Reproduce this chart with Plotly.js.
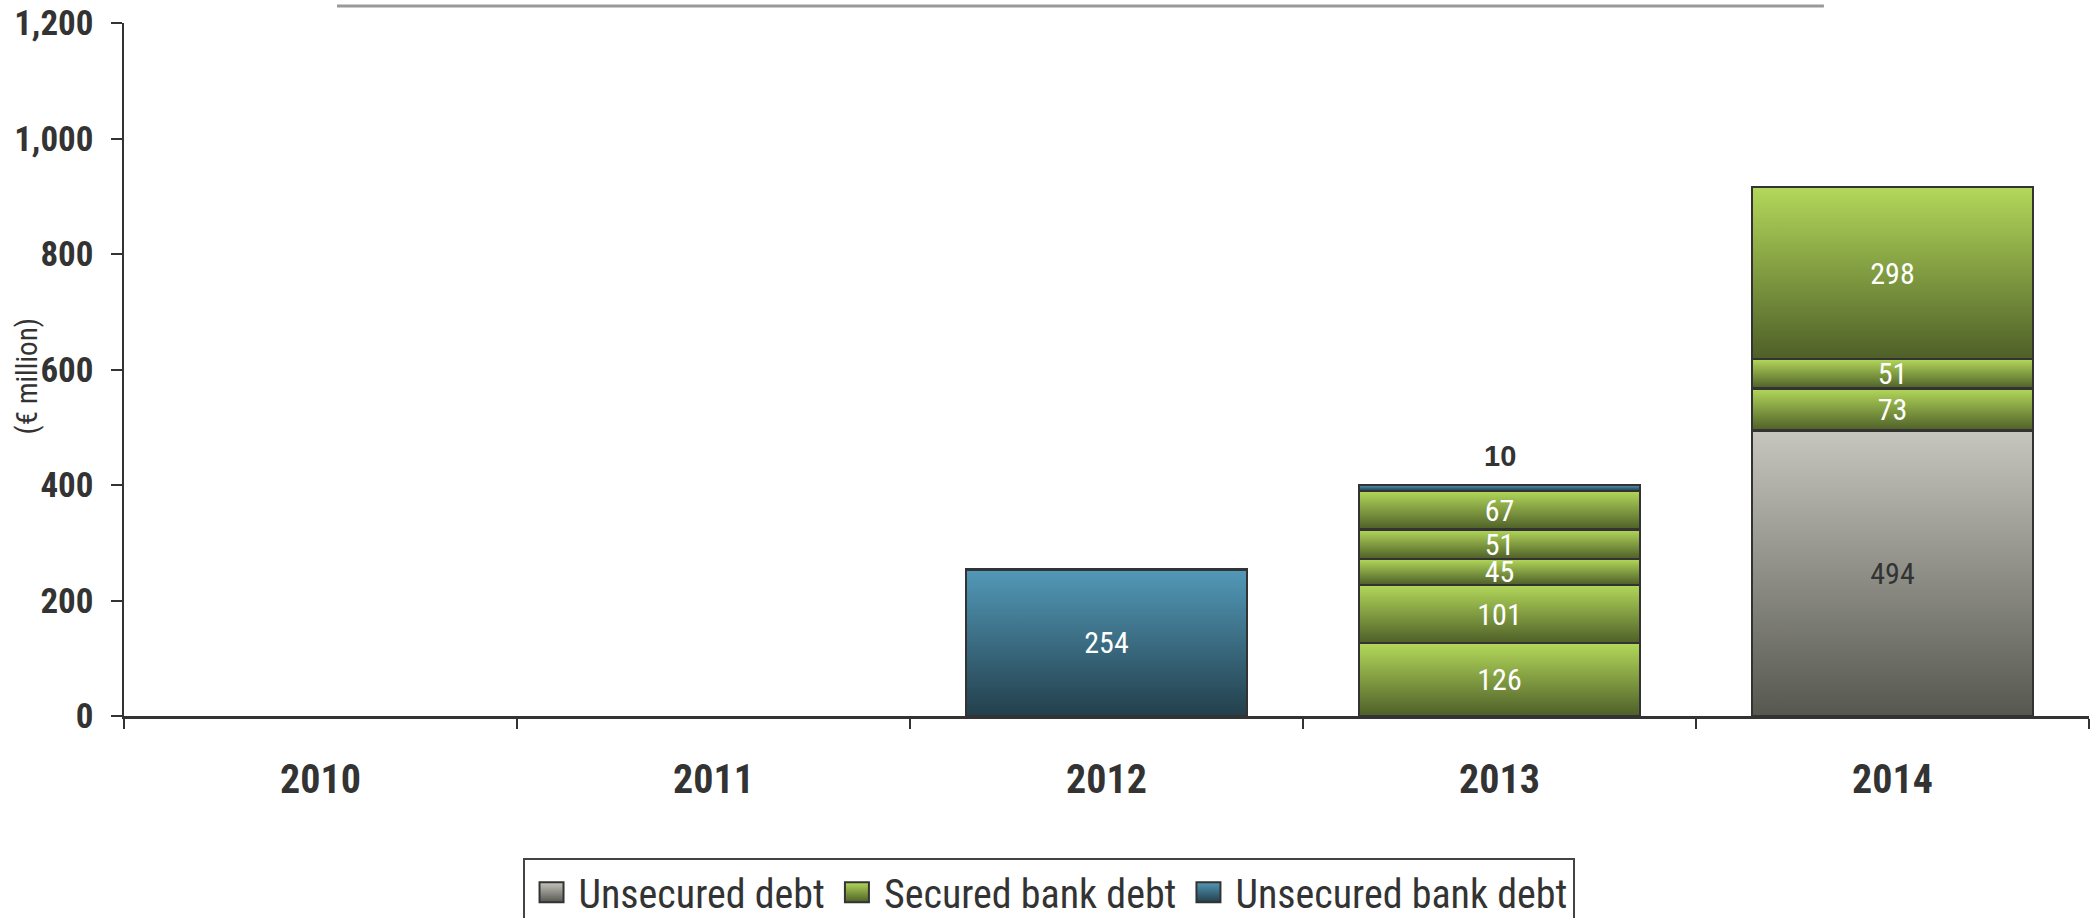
<!DOCTYPE html>
<html>
<head>
<meta charset="utf-8">
<script src="https://cdn.plot.ly/plotly-3.0.1.min.js"></script>
<style>
html,body{margin:0;padding:0;background:#ffffff;}
text{font-stretch:condensed;}
</style>
</head>
<body>
<div id="chart" style="width:2100px;height:918px;"></div>
<script>
// ---- data (€ million) ----
const years = ['2010', '2011', '2012', '2013', '2014'];
const unsecuredDebt     = [null, null, null, null, 494];
const securedTranche1   = [null, null, null, 126, 73];
const securedTranche2   = [null, null, null, 101, 51];
const securedTranche3   = [null, null, null, 45, 298];
const securedTranche4   = [null, null, null, 51, null];
const securedTranche5   = [null, null, null, 67, null];
const unsecuredBankDebt = [null, null, 254, 10, null];
const seriesNames = ['Unsecured debt', 'Secured bank debt', 'Unsecured bank debt'];
const yTickVals = [0, 200, 400, 600, 800, 1000, 1200];
const aboveStackYear = '2013';   // year whose top tranche is labelled above the stack

// ---- styles ----
const FONT = 'Roboto, "DejaVu Sans", sans-serif';
const INK = '#333333';
const gradients = {
  gGray:  ['#c6c6be', '#56574f', '#8e8e86'],
  gGreen: ['#b3d85a', '#4e5f28', '#7f9c40'],
  gBlue:  ['#5299b8', '#233f4b', '#3a6d82']
};

const allSeries = [unsecuredDebt, securedTranche1, securedTranche2, securedTranche3,
                   securedTranche4, securedTranche5, unsecuredBankDebt];
const stackTotals = years.map((_, i) => allSeries.reduce((s, arr) => s + (arr[i] || 0), 0));
const aboveIdx = years.indexOf(aboveStackYear);

function barTrace(name, values, grad, showlegend, labelColor, templates) {
  return {
    type: 'bar',
    name: name,
    x: years,
    y: values,
    meta: grad,
    legendgroup: name,
    showlegend: showlegend,
    marker: { color: gradients[grad][2], line: { color: INK, width: 2.5 } },
    texttemplate: templates || '%{y}',
    textposition: 'inside',
    insidetextanchor: 'middle',
    textangle: 0,
    constraintext: 'none',
    cliponaxis: false,
    insidetextfont: { family: FONT, size: 30, color: labelColor },
    hoverinfo: 'skip'
  };
}

const bankTemplates = unsecuredBankDebt.map((v, i) => (i === aboveIdx ? '' : '%{y}'));

const data = [
  barTrace(seriesNames[0], unsecuredDebt, 'gGray', true, INK),
  barTrace(seriesNames[1], securedTranche1, 'gGreen', true, '#ffffff'),
  barTrace(seriesNames[1], securedTranche2, 'gGreen', false, '#ffffff'),
  barTrace(seriesNames[1], securedTranche3, 'gGreen', false, '#ffffff'),
  barTrace(seriesNames[1], securedTranche4, 'gGreen', false, '#ffffff'),
  barTrace(seriesNames[1], securedTranche5, 'gGreen', false, '#ffffff'),
  barTrace(seriesNames[2], unsecuredBankDebt, 'gBlue', true, '#ffffff', bankTemplates)
];

const layout = {
  width: 2100,
  height: 918,
  paper_bgcolor: '#ffffff',
  plot_bgcolor: '#ffffff',
  margin: { l: 124, r: 11, t: 23, b: 202, autoexpand: false },
  barmode: 'stack',
  bargap: 0.285,
  showlegend: true,
  xaxis: {
    type: 'category',
    showgrid: false,
    zeroline: false,
    showline: true,
    linecolor: INK,
    linewidth: 2.5,
    ticks: 'outside',
    tickson: 'boundaries',
    ticklen: 10,
    tickwidth: 2,
    tickcolor: INK,
    ticklabelstandoff: 26,
    tickfont: { family: FONT, size: 40, color: INK, weight: 'bold' },
    fixedrange: true
  },
  yaxis: {
    range: [0, 1200],
    tickvals: yTickVals,
    tickformat: ',d',
    showgrid: false,
    zeroline: false,
    showline: true,
    linecolor: INK,
    linewidth: 2.5,
    ticks: 'outside',
    ticklen: 11,
    tickwidth: 2,
    tickcolor: INK,
    ticklabelstandoff: 10,
    tickfont: { family: FONT, size: 35, color: INK, weight: 'bold' },
    fixedrange: true
  },
  legend: {
    orientation: 'h',
    x: 0.4705,
    xanchor: 'center',
    y: -0.2045,
    yanchor: 'top',
    bordercolor: '#444444',
    borderwidth: 2,
    bgcolor: '#ffffff',
    itemwidth: 44,
    font: { family: FONT, size: 40, color: INK },
    traceorder: 'normal'
  },
  annotations: [{
    text: '(€ million)',
    textangle: -90,
    xref: 'paper', yref: 'paper',
    x: -0.0496, y: 0.4893,
    xanchor: 'center', yanchor: 'middle',
    showarrow: false,
    font: { family: FONT, size: 29, color: INK }
  }, {
    text: String(unsecuredBankDebt[aboveIdx]),
    xref: 'x', yref: 'y',
    x: aboveIdx, y: stackTotals[aboveIdx],
    xanchor: 'center', yanchor: 'bottom',
    yshift: 11,
    showarrow: false,
    font: { family: '"Liberation Sans", Arial, sans-serif', size: 29, color: INK, weight: 'bold' }
  }],
  shapes: [{
    type: 'line',
    xref: 'paper', yref: 'paper',
    x0: 0.1084, x1: 0.8651, y0: 1.0245, y1: 1.0245,
    line: { color: '#999999', width: 3 }
  }]
};

function applyGradients(gd) {
  const NS = 'http://www.w3.org/2000/svg';
  const svg = gd.querySelector('svg.main-svg');
  let defs = svg.querySelector('defs');
  if (!defs) { defs = document.createElementNS(NS, 'defs'); svg.insertBefore(defs, svg.firstChild); }
  Object.keys(gradients).forEach(id => {
    const lg = document.createElementNS(NS, 'linearGradient');
    lg.setAttribute('id', id);
    lg.setAttribute('x1', '0'); lg.setAttribute('y1', '0');
    lg.setAttribute('x2', '0'); lg.setAttribute('y2', '1');
    [[0, gradients[id][0]], [1, gradients[id][1]]].forEach(([o, c]) => {
      const s = document.createElementNS(NS, 'stop');
      s.setAttribute('offset', o);
      s.setAttribute('stop-color', c);
      lg.appendChild(s);
    });
    defs.appendChild(lg);
  });
  const traces = gd.querySelectorAll('.barlayer .trace');
  traces.forEach((tr, i) => {
    const fd = gd._fullData[i];
    if (!fd) return;
    tr.querySelectorAll('.point path').forEach(p => { p.style.fill = 'url(#' + fd.meta + ')'; });
  });
  gd.querySelectorAll('.legend .traces').forEach(t => {
    const d = t.__data__;
    const tr = d && d[0] && d[0].trace;
    if (!tr) return;
    t.querySelectorAll('.legendpoints path').forEach(p => {
      p.setAttribute('d', 'M12,10H-12V-10H12Z');
      p.style.fill = 'url(#' + tr.meta + ')';
      p.style.strokeWidth = '2px';
    });
  });
}

Plotly.newPlot('chart', data, layout, { staticPlot: true, displayModeBar: false })
  .then(applyGradients);
</script>
</body>
</html>
